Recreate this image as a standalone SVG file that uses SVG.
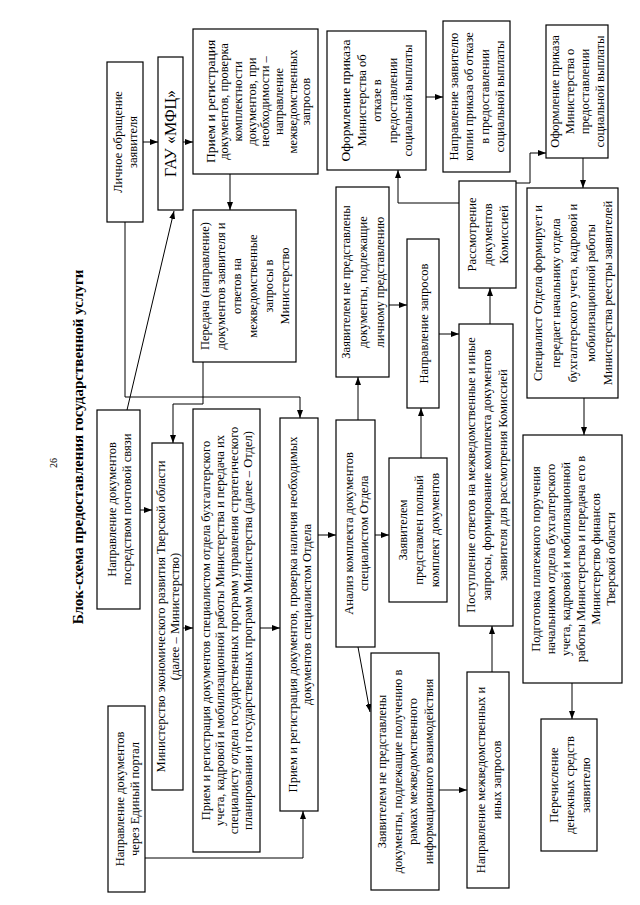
<svg xmlns="http://www.w3.org/2000/svg" width="640" height="905" viewBox="0 0 640 905">
<style>
.b{fill:#fff;stroke:#000;stroke-width:1.2}
.t{font-family:"Liberation Serif","Times New Roman",serif;font-size:12.5px;text-anchor:middle;fill:#000}
.c{fill:none;stroke:#000;stroke-width:1}
</style>
<defs>
<marker id="a" markerUnits="userSpaceOnUse" markerWidth="8" markerHeight="6" refX="8" refY="3" orient="auto">
<path d="M0,0 L8,3 L0,6 z" fill="#000"/>
</marker>
</defs>
<rect width="640" height="905" fill="#fff"/>
<text class="t" style="font-size:10px" transform="translate(53,463) rotate(-90)" y="3.5">26</text>
<text class="t" style="font-size:15px;font-weight:bold" transform="translate(78,447) rotate(-90)" y="5">Блок-схема предоставления государственной услуги</text>

<g id="connectors">
<polyline class="c" points="143,142 158,142" marker-end="url(#a)"/>
<polyline class="c" points="183,142 193,142" marker-end="url(#a)"/>
<polyline class="c" points="230,174 230,210" marker-end="url(#a)"/>
<polyline class="c" points="127,410 174,211" marker-end="url(#a)"/>
<polyline class="c" points="125,222 125,397 300,397 300,418" marker-end="url(#a)"/>
<polyline class="c" points="203,362 203,404 173,404 173,443" marker-end="url(#a)"/>
<polyline class="c" points="140,510 152,510" marker-end="url(#a)"/>
<polyline class="c" points="183,628 193,628" marker-end="url(#a)"/>
<polyline class="c" points="260,628 280,628" marker-end="url(#a)"/>
<polyline class="c" points="145,858 303,858 303,811" marker-end="url(#a)"/>
<polyline class="c" points="318,535 336,535" marker-end="url(#a)"/>
<polyline class="c" points="375,535 389,535" marker-end="url(#a)"/>
<polyline class="c" points="358,420 358,377" marker-end="url(#a)"/>
<polyline class="c" points="358,647 370,712" marker-end="url(#a)"/>
<polyline class="c" points="389,305 407,305" marker-end="url(#a)"/>
<polyline class="c" points="421,458 421,408" marker-end="url(#a)"/>
<polyline class="c" points="439,334 459,334" marker-end="url(#a)"/>
<polyline class="c" points="439,790 467,790" marker-end="url(#a)"/>
<polyline class="c" points="492,672 492,626" marker-end="url(#a)"/>
<polyline class="c" points="490,324 490,288" marker-end="url(#a)"/>
<polyline class="c" points="459,203 398,203 398,170" marker-end="url(#a)"/>
<polyline class="c" points="516,183 530,183 530,153 546,153" marker-end="url(#a)"/>
<polyline class="c" points="426,97 443,97" marker-end="url(#a)"/>
<polyline class="c" points="583,158 583,188" marker-end="url(#a)"/>
<polyline class="c" points="584,398 584,435" marker-end="url(#a)"/>
<polyline class="c" points="572,683 572,719" marker-end="url(#a)"/>
</g>

<g id="n1"><rect class="b" x="107" y="62" width="36" height="160"/>
<text class="t" transform="translate(125,142) rotate(-90)"><tspan x="0" y="-3">Личное обращение</tspan><tspan x="0" y="12">заявителя</tspan></text></g>

<g id="n2"><rect class="b" x="158" y="57" width="25" height="153"/>
<text class="t" style="font-size:16px" transform="translate(170.5,133.5) rotate(-90)" y="5.5">ГАУ «МФЦ»</text></g>

<g id="n3"><rect class="b" x="193" y="29" width="125" height="145"/>
<text class="t" transform="translate(258,101.5) rotate(-90)"><tspan x="0" y="-43.45" style="font-size:13.5px">Прием и регистрация</tspan><tspan x="0" y="-29.75">документов, проверка</tspan><tspan x="0" y="-16.05">комплектности</tspan><tspan x="0" y="-2.35">документов, при</tspan><tspan x="0" y="11.35">необходимости –</tspan><tspan x="0" y="25.05">направление</tspan><tspan x="0" y="38.75">межведомственных</tspan><tspan x="0" y="52.45">запросов</tspan></text></g>

<g id="n4"><rect class="b" x="193" y="210" width="103" height="152"/>
<text class="t" transform="translate(244.5,286) rotate(-90)"><tspan x="0" y="-35.5">Передача (направление)</tspan><tspan x="0" y="-19.5">документов заявителя и</tspan><tspan x="0" y="-3.5">ответов на</tspan><tspan x="0" y="12.5">межведомственные</tspan><tspan x="0" y="28.5">запросы в</tspan><tspan x="0" y="44.5">Министерство</tspan></text></g>

<g id="n5"><rect class="b" x="327" y="31" width="99" height="139"/>
<text class="t" transform="translate(376.5,100.5) rotate(-90)"><tspan x="0" y="-26.5" style="font-size:13.5px">Оформление приказа</tspan><tspan x="0" y="-11">Министерства об</tspan><tspan x="0" y="4.5">отказе в</tspan><tspan x="0" y="20">предоставлении</tspan><tspan x="0" y="35.5">социальной выплаты</tspan></text></g>

<g id="n6"><rect class="b" x="443" y="21" width="67" height="151"/>
<text class="t" transform="translate(476.5,96.5) rotate(-90)"><tspan x="0" y="-18.75">Направление заявителю</tspan><tspan x="0" y="-3.25">копии приказа об отказе</tspan><tspan x="0" y="12.25">в предоставлении</tspan><tspan x="0" y="27.75">социальной выплаты</tspan></text></g>

<g id="n7"><rect class="b" x="546" y="25" width="62" height="133"/>
<text class="t" transform="translate(577,91.5) rotate(-90)"><tspan x="0" y="-18">Оформление приказа</tspan><tspan x="0" y="-3">Министерства о</tspan><tspan x="0" y="12">предоставлении</tspan><tspan x="0" y="27">социальной выплаты</tspan></text></g>

<g id="n8"><rect class="b" x="459" y="181" width="57" height="107"/>
<text class="t" transform="translate(487.5,234.5) rotate(-90)"><tspan x="0" y="-11.5">Рассмотрение</tspan><tspan x="0" y="4.5">документов</tspan><tspan x="0" y="20.5">Комиссией</tspan></text></g>

<g id="n9"><rect class="b" x="527" y="188" width="91" height="210"/>
<text class="t" transform="translate(572.5,293) rotate(-90)"><tspan x="0" y="-30.5">Специалист Отдела формирует и</tspan><tspan x="0" y="-13">передает начальнику отдела</tspan><tspan x="0" y="4.5">бухгалтерского учета, кадровой и</tspan><tspan x="0" y="22">мобилизационной работы</tspan><tspan x="0" y="39.5">Министерства реестры заявителей</tspan></text></g>

<g id="n10"><rect class="b" x="336" y="187" width="53" height="190"/>
<text class="t" transform="translate(362.5,282) rotate(-90)"><tspan x="0" y="-12.5">Заявителем не представлены</tspan><tspan x="0" y="4.5">документы, подлежащие</tspan><tspan x="0" y="21.5">личному представлению</tspan></text></g>

<g id="n11"><rect class="b" x="407" y="239" width="32" height="169"/>
<text class="t" transform="translate(423,323.5) rotate(-90)" y="4.5">Направление запросов</text></g>

<g id="n12"><rect class="b" x="336" y="420" width="39" height="227"/>
<text class="t" transform="translate(355.5,533.5) rotate(-90)"><tspan x="0" y="-3">Анализ комплекта документов</tspan><tspan x="0" y="12">специалистом Отдела</tspan></text></g>

<g id="n13"><rect class="b" x="389" y="458" width="58" height="144"/>
<text class="t" transform="translate(418,530) rotate(-90)"><tspan x="0" y="-11.5">Заявителем</tspan><tspan x="0" y="4.5">представлен полный</tspan><tspan x="0" y="20.5">комплект документов</tspan></text></g>

<g id="n14"><rect class="b" x="459" y="324" width="54" height="302"/>
<text class="t" transform="translate(486,475) rotate(-90)"><tspan x="0" y="-11.5">Поступление ответов на межведомственные и иные</tspan><tspan x="0" y="4.5">запросы, формирование комплекта документов</tspan><tspan x="0" y="20.5">заявителя для рассмотрения Комиссией</tspan></text></g>

<g id="n15"><rect class="b" x="523" y="435" width="99" height="248"/>
<text class="t" transform="translate(572.5,559) rotate(-90)"><tspan x="0" y="-33">Подготовка платежного поручения</tspan><tspan x="0" y="-18">начальником отдела бухгалтерского</tspan><tspan x="0" y="-3">учета, кадровой и мобилизационной</tspan><tspan x="0" y="12">работы Министерства и передача его в</tspan><tspan x="0" y="27">Министерство финансов</tspan><tspan x="0" y="42">Тверской области</tspan></text></g>

<g id="n16"><rect class="b" x="541" y="719" width="56" height="132"/>
<text class="t" transform="translate(569,785) rotate(-90)"><tspan x="0" y="-11.5">Перечисление</tspan><tspan x="0" y="4.5">денежных средств</tspan><tspan x="0" y="20.5">заявителю</tspan></text></g>

<g id="n17"><rect class="b" x="371" y="653" width="68" height="237"/>
<text class="t" transform="translate(405,771.5) rotate(-90)"><tspan x="0" y="-18.75">Заявителем не представлены</tspan><tspan x="0" y="-3.25">документы, подлежащие получению в</tspan><tspan x="0" y="12.25">рамках межведомственного</tspan><tspan x="0" y="27.75">информационного взаимодействия</tspan></text></g>

<g id="n18"><rect class="b" x="467" y="672" width="42" height="216"/>
<text class="t" transform="translate(488,780) rotate(-90)"><tspan x="0" y="-3.5">Направление межведомственных и</tspan><tspan x="0" y="12.5">иных запросов</tspan></text></g>

<g id="n19"><rect class="b" x="97" y="410" width="43" height="199"/>
<text class="t" transform="translate(118.5,509.5) rotate(-90)"><tspan x="0" y="-3">Направление документов</tspan><tspan x="0" y="12">посредством почтовой связи</tspan></text></g>

<g id="n20"><rect class="b" x="152" y="443" width="31" height="347"/>
<text class="t" transform="translate(167.5,616.5) rotate(-90)"><tspan x="0" y="-2.5">Министерство экономического развития Тверской области</tspan><tspan x="0" y="11.5">(далее – Министерство)</tspan></text></g>

<g id="n21"><rect class="b" x="193" y="409" width="67" height="443"/>
<text class="t" transform="translate(226.5,630.5) rotate(-90)"><tspan x="0" y="-16.5">Прием и регистрация документов специалистом отдела бухгалтерского</tspan><tspan x="0" y="-2.5">учета, кадровой и мобилизационной работы Министерства и передача их</tspan><tspan x="0" y="11.5">специалисту отдела государственных программ управления стратегического</tspan><tspan x="0" y="25.5">планирования и государственных программ Министерства (далее – Отдел)</tspan></text></g>

<g id="n22"><rect class="b" x="280" y="418" width="38" height="393"/>
<text class="t" transform="translate(299,614.5) rotate(-90)"><tspan x="0" y="-2.5">Прием и регистрация документов, проверка наличия необходимых</tspan><tspan x="0" y="11.5">документов специалистом Отдела</tspan></text></g>

<g id="n23"><rect class="b" x="108" y="706" width="37" height="186"/>
<text class="t" transform="translate(126.5,799) rotate(-90)"><tspan x="0" y="-3">Направление документов</tspan><tspan x="0" y="12">через Единый портал</tspan></text></g>
</svg>
